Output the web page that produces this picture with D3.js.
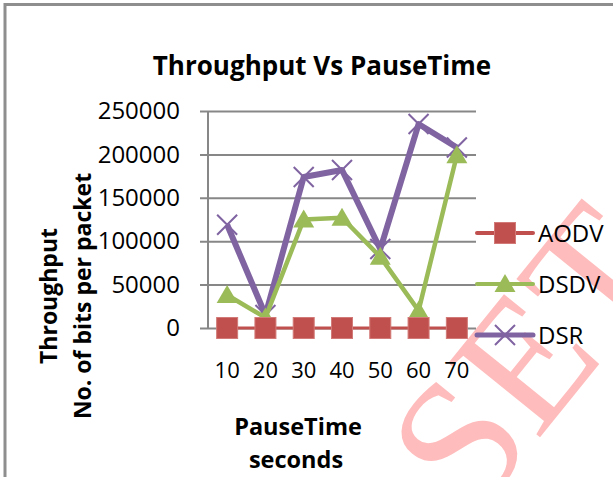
<!DOCTYPE html>
<html>
<head>
<meta charset="utf-8">
<script src="https://cdn.jsdelivr.net/npm/d3@7"></script>
<style>
  body { margin: 0; background: #fff; }
  svg { display: block; font-family: "Open Sans", sans-serif; }
</style>
</head>
<body>
<svg id="chart" width="613" height="477"></svg>
<script>
const width = 613;
const height = 477;

const pauseTimes = ['10', '20', '30', '40', '50', '60', '70'];
const aodv = [0, 0, 0, 0, 0, 0, 0];
const dsdv = [38000, 12000, 125000, 127000, 82000, 20000, 199000];
const dsr = [119000, 15000, 174000, 182000, 91000, 235000, 208000];
const yTicks = [0, 50000, 100000, 150000, 200000, 250000];
const seriesNames = ['AODV', 'DSDV', 'DSR'];

const svg = d3.select('#chart');

// frame of the chart area (only left and top edge are in view)
svg.append('rect')
    .attr('x', 5).attr('y', 4.5)
    .attr('width', 700).attr('height', 600)
    .attr('fill', 'none')
    .attr('stroke', '#8e8e8e')
    .attr('stroke-width', 3);

// watermark
svg.append('text')
    .attr('transform', 'translate(392,620) rotate(-51)')
    .attr('font-family', '"Liberation Serif", serif')
    .attr('font-size', 180)
    .attr('fill', '#ffbcbc')
    .text('ASET');

const x = d3.scaleBand().domain(pauseTimes).range([208, 476]);
const y = d3.scaleLinear().domain([0, 250000]).range([328, 111]);

// gridlines
svg.append('g')
    .attr('transform', 'translate(200,0)')
    .call(d3.axisLeft(y).tickValues(yTicks).tickSize(-(476 - 200)).tickFormat(''))
    .call(g => g.select('.domain').remove())
    .call(g => g.selectAll('line').attr('stroke', '#878787').attr('stroke-width', 2));

// y axis line
svg.append('line')
    .attr('x1', 208).attr('x2', 208)
    .attr('y1', y(250000)).attr('y2', y(0))
    .attr('stroke', '#878787').attr('stroke-width', 2);

// y tick labels
svg.append('g')
    .attr('transform', 'translate(208,0)')
    .call(d3.axisLeft(y).tickValues(yTicks).tickSize(0).tickPadding(28).tickFormat(d3.format('d')))
    .call(g => g.select('.domain').remove())
    .call(g => g.selectAll('text')
        .attr('font-family', '"Open Sans", sans-serif')
        .attr('font-size', 24)
        .attr('fill', '#000'));

// x tick labels
svg.append('g')
    .attr('transform', 'translate(0,' + y(0) + ')')
    .call(d3.axisBottom(x).tickSize(0).tickPadding(34))
    .call(g => g.select('.domain').remove())
    .call(g => g.selectAll('text')
        .attr('font-family', '"Open Sans", sans-serif')
        .attr('font-size', 22)
        .attr('fill', '#000'));

const colors = { AODV: '#c0504d', DSDV: '#9bbb59', DSR: '#8064a2' };
const lineWidths = { AODV: 3, DSDV: 4.5, DSR: 6 };
const values = { AODV: aodv, DSDV: dsdv, DSR: dsr };

function drawMarker(g, name, cx, cy) {
    if (name === 'AODV') {
        g.append('rect')
            .attr('x', cx - 10.5).attr('y', cy - 10.5)
            .attr('width', 21).attr('height', 21)
            .attr('fill', colors.AODV)
            .attr('stroke', '#d27a77').attr('stroke-width', 1);
    } else if (name === 'DSDV') {
        g.append('path')
            .attr('d', `M${cx},${cy - 10}L${cx + 10.5},${cy + 8}L${cx - 10.5},${cy + 8}Z`)
            .attr('fill', colors.DSDV);
    } else {
        g.append('path')
            .attr('d', `M${cx - 10},${cy - 10}L${cx + 10},${cy + 10}M${cx + 10},${cy - 10}L${cx - 10},${cy + 10}`)
            .attr('fill', 'none')
            .attr('stroke', colors.DSR).attr('stroke-width', 2);
    }
}

const line = d3.line()
    .x((d, i) => x(pauseTimes[i]) + x.bandwidth() / 2)
    .y(d => y(d));

// series drawn DSR first so AODV ends up on top
['DSR', 'DSDV', 'AODV'].forEach(name => {
    const g = svg.append('g');
    g.append('path')
        .datum(values[name])
        .attr('d', line)
        .attr('fill', 'none')
        .attr('stroke', colors[name])
        .attr('stroke-width', lineWidths[name])
        .attr('stroke-linejoin', 'round');
    values[name].forEach((v, i) => {
        drawMarker(g, name, x(pauseTimes[i]) + x.bandwidth() / 2, y(v));
    });
});

// legend
const legendY = { AODV: 233, DSDV: 284, DSR: 335 };
seriesNames.forEach(name => {
    const g = svg.append('g');
    g.append('line')
        .attr('x1', 477).attr('x2', 533)
        .attr('y1', legendY[name]).attr('y2', legendY[name])
        .attr('stroke', colors[name])
        .attr('stroke-width', name === 'DSR' ? 5 : 4)
        .attr('stroke-linecap', 'round');
    drawMarker(g, name, 505, legendY[name]);
    g.append('text')
        .attr('x', 538).attr('y', legendY[name])
        .attr('dy', '0.36em')
        .attr('font-size', 24)
        .text(name);
});

// chart title
svg.append('text')
    .attr('x', 322).attr('y', 75)
    .attr('text-anchor', 'middle')
    .attr('font-weight', 'bold')
    .attr('font-size', 26)
    .text('Throughput Vs PauseTime');

// axis titles
const yTitle = svg.append('text')
    .attr('transform', 'translate(66,296) rotate(-90)')
    .attr('text-anchor', 'middle')
    .attr('font-weight', 'bold')
    .attr('font-size', 23);
yTitle.append('tspan').attr('x', 0).attr('y', -9).text('Throughput');
yTitle.append('tspan').attr('x', 0).attr('y', 25).text('No. of bits per packet');

const xTitle = svg.append('text')
    .attr('text-anchor', 'middle')
    .attr('font-weight', 'bold')
    .attr('font-size', 23.5);
xTitle.append('tspan').attr('x', 298).attr('y', 435).text('PauseTime');
xTitle.append('tspan').attr('x', 296).attr('y', 468).text('seconds');
</script>
</body>
</html>
